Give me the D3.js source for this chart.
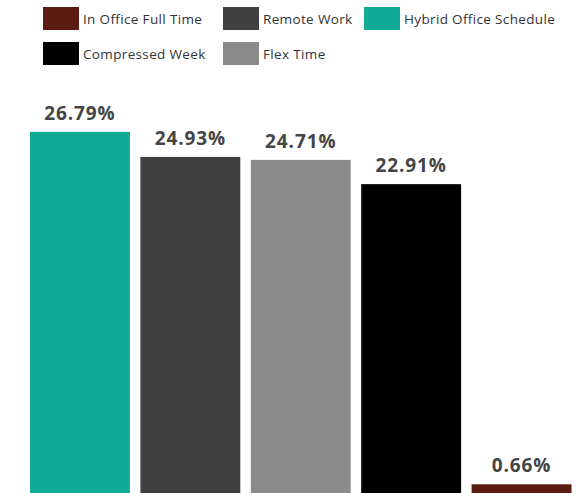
<!DOCTYPE html>
<html><head><meta charset="utf-8">
<script src="https://cdn.jsdelivr.net/npm/d3@7"></script>
<style>body{margin:0;background:#fff}svg{display:block}</style>
</head><body>
<svg id="c" width="586" height="493"></svg>
<script>
const categories = ["Hybrid Office Schedule","Remote Work","Flex Time","Compressed Week","In Office Full Time"];
const values = [26.79, 24.93, 24.71, 22.91, 0.66];
const legendOrder = ["In Office Full Time","Remote Work","Hybrid Office Schedule","Compressed Week","Flex Time"];
const colors = {"In Office Full Time":"#5c1b11","Remote Work":"#404040","Hybrid Office Schedule":"#12ab95","Compressed Week":"#000000","Flex Time":"#8b8b8b"};

const svg = d3.select("#c");
const x = d3.scaleBand().domain(categories).range([30, 571.5]).paddingInner(0.095).paddingOuter(0);
const y = d3.scaleLinear().domain([0, 28]).range([493.2, 115.5]);

const data = categories.map((c,i)=>({c, v: values[i]}));
svg.selectAll("rect.bar").data(data).enter().append("rect")
  .attr("class","bar")
  .attr("x", d=>x(d.c)).attr("width", x.bandwidth())
  .attr("y", d=>y(d.v)).attr("height", d=>y(0)-y(d.v))
  .attr("fill", d=>colors[d.c]);

svg.selectAll("text.lbl").data(data).enter().append("text")
  .attr("class","lbl")
  .attr("x", d=>x(d.c)+x.bandwidth()/2).attr("y", d=>y(d.v)-12)
  .attr("text-anchor","middle")
  .attr("font-family","'Open Sans', sans-serif").attr("font-weight","bold").attr("font-size","19px")
  .attr("letter-spacing","0.9px")
  .attr("fill","#454545")
  .text(d=>d.v.toFixed(2)+"%");

const legX = [43, 223, 364], legY = [7, 42];
const lg = svg.selectAll("g.leg").data(legendOrder).enter().append("g")
  .attr("class","leg")
  .attr("transform",(d,i)=>`translate(${legX[i%3]},${legY[Math.floor(i/3)]})`);
lg.append("rect").attr("width",36).attr("height",23).attr("fill",d=>colors[d]);
lg.append("text").attr("x",40).attr("y",17)
  .attr("font-family","'Open Sans', sans-serif").attr("font-size","13.5px").attr("fill","#333")
  .attr("letter-spacing","0.35px")
  .text(d=>d);
</script>
</body></html>
